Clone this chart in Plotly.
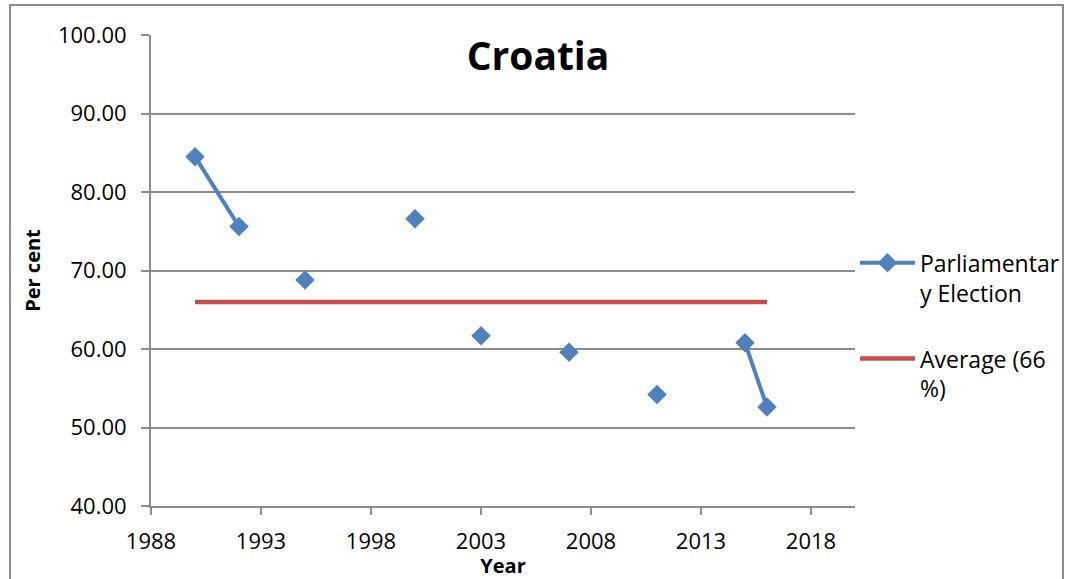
import plotly.graph_objects as go

# Croatian parliamentary election turnout (per cent); None marks a break between non-consecutive rows
years = [1990, 1992, None, 1995, None, 2000, None, 2003, None, 2007, None, 2011, None, 2015, 2016]
turnout = [84.5, 75.6, None, 68.8, None, 76.6, None, 61.7, None, 59.6, None, 54.2, None, 60.8, 52.6]

avg_years = [1990, 2016]
avg_value = [66.0, 66.0]

x_ticks = [1988, 1993, 1998, 2003, 2008, 2013, 2018]
y_ticks = [40, 50, 60, 70, 80, 90, 100]

FONT = "Open Sans"
BLUE = "#4F81BD"
RED = "#C0504D"
GRID = "#8C8C8C"

fig = go.Figure()
fig.add_trace(go.Scatter(
    x=years, y=turnout, mode="lines+markers",
    name="Parliamentar<br>y Election", legendgroup="election",
    line=dict(color=BLUE, width=4),
    marker=dict(symbol="diamond", size=15, color=BLUE),
    connectgaps=False,
))
fig.add_trace(go.Scatter(
    x=avg_years, y=avg_value, mode="lines",
    name="Average (66<br>%)", legendgroup="average",
    line=dict(color=RED, width=4.5),
))

fig.update_layout(
    width=1069, height=579,
    margin=dict(l=151, r=214, t=35, b=73, autoexpand=False),
    paper_bgcolor="white", plot_bgcolor="white",
    font=dict(family=FONT, size=22, color="black"),
    title=dict(text="<b>Croatia</b>", x=538 / 1069, xref="container", xanchor="center",
               y=1 - 56 / 579, yref="container", yanchor="middle",
               font=dict(family=FONT, size=39, color="black")),
    showlegend=True,
    legend=dict(x=1.0, xanchor="left", y=0.562, yanchor="top",
                font=dict(family=FONT, size=23, color="black"),
                itemwidth=55, valign="top", tracegroupgap=33,
                bgcolor="rgba(0,0,0,0)"),
    xaxis=dict(range=[1988, 2020], tickvals=x_ticks, ticktext=[str(v) for v in x_ticks],
               showgrid=False, zeroline=False, showline=True, linecolor=GRID, linewidth=2,
               ticks="outside", ticklen=7, tickwidth=2, tickcolor=GRID,
               ticklabelstandoff=8,
               tickfont=dict(family=FONT, size=22),
               title=dict(text="<b>Year</b>", font=dict(family=FONT, size=20), standoff=0)),
    yaxis=dict(range=[40, 100], tickvals=y_ticks, ticktext=[f"{v:.2f}" for v in y_ticks],
               showgrid=True, gridcolor=GRID, gridwidth=2, zeroline=False,
               showline=True, linecolor=GRID, linewidth=2,
               ticks="outside", ticklen=8, tickwidth=2, tickcolor=GRID,
               ticklabelstandoff=10,
               tickfont=dict(family=FONT, size=22),
               title=dict(text="<b>Per cent</b>", font=dict(family=FONT, size=20), standoff=12)),
    shapes=[dict(type="rect", xref="paper", yref="paper",
                 x0=(10 - 151) / 704, x1=(1063 - 151) / 704,
                 y0=(506 - 590) / 471, y1=(506 - 5) / 471,
                 line=dict(color=GRID, width=2), fillcolor="rgba(0,0,0,0)", layer="below")],
)

fig.write_html("out.html")
